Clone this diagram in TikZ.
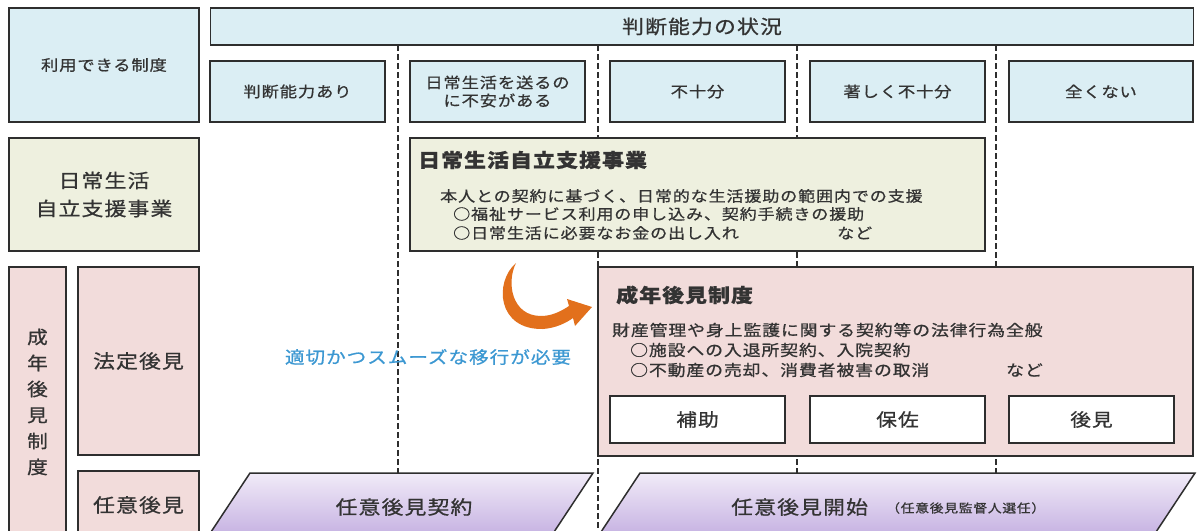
\documentclass[tikz,border=0pt]{standalone}
\usepackage{fontspec}
\setmainfont{Noto Sans CJK JP}[FakeStretch=1.15, LetterSpace=6, FakeBold=0.8]
\usetikzlibrary{arrows.meta}
\definecolor{lblue}{HTML}{DBEEF4}
\definecolor{lgreen}{HTML}{EEF0DF}
\definecolor{lpink}{HTML}{F2DCDB}
\definecolor{ptop}{HTML}{F1EBF8}
\definecolor{pbot}{HTML}{C6B2E2}
\definecolor{edge}{HTML}{2E2E2E}
\definecolor{txt}{HTML}{333333}
\definecolor{skyblue}{HTML}{3C98D2}
\definecolor{orng}{HTML}{E2701C}
\tikzset{
  box/.style={draw=edge, line width=1.5pt, inner sep=0pt, text=txt},
  divline/.style={draw=edge, line width=1.3pt, dash pattern=on 6pt off 3pt},
  para/.style={draw=edge, line width=1.5pt, top color=ptop, bottom color=pbot},
  lbl/.style={inner sep=0pt, text=txt},
  f15/.style={font=\fontsize{15}{18}\selectfont},
  f14/.style={font=\fontsize{14.8}{18}\selectfont},
  f155/.style={font=\fontsize{15.5}{18}\selectfont},
  f18/.style={font=\fontsize{18}{22}\selectfont},
  f19/.style={font=\fontsize{19}{28}\selectfont},
  h19/.style={font=\fontsize{19}{22}\selectfont\bfseries},
}
\begin{document}
\begin{tikzpicture}[x=1pt,y=-1pt]
\useasboundingbox (0,0) rectangle (1199,530);
\fill[white] (0,0) rectangle (1199,530);
\clip (0,0) rectangle (1199,530);

% dashed column dividers
\coordinate (d1t) at (398,45);  \coordinate (d1b) at (398,535);
\coordinate (d2t) at (598,45);  \coordinate (d2b) at (598,535);
\coordinate (d3t) at (797,45);  \coordinate (d3b) at (797,535);
\coordinate (d4t) at (996,45);  \coordinate (d4b) at (996,535);
\draw[divline] (d1t) -- (d1b);
\draw[divline] (d2t) -- (d2b);
\draw[divline] (d3t) -- (d3b);
\draw[divline] (d4t) -- (d4b);

% header row
\node[box, fill=lblue, minimum width=190, minimum height=114, f15] (use) at (104,65) {利用できる制度};
\node[box, fill=lblue, minimum width=983, minimum height=37, font=\fontsize{19}{22}\selectfont] (head) at (702,26.5) {判断能力の状況};
\node[box, fill=lblue, minimum width=175, minimum height=61, f15] (c1) at (297.5,91.5) {判断能力あり};
\node[box, fill=lblue, minimum width=175, minimum height=61, f15, align=center] (c2) at (497.5,91.5) {日常生活を送るの\\に不安がある};
\node[box, fill=lblue, minimum width=175, minimum height=61, f15] (c3) at (697.5,91.5) {不十分};
\node[box, fill=lblue, minimum width=175, minimum height=61, f15] (c4) at (897.5,91.5) {著しく不十分};
\node[box, fill=lblue, minimum width=184, minimum height=61, f15] (c5) at (1101,91.5) {全くない};

% daily life support row
\node[box, fill=lgreen, minimum width=190, minimum height=113, f19, align=center] (nl) at (104,194.5) {日常生活\\自立支援事業};
\node[box, fill=lgreen, minimum width=575, minimum height=113] (nb) at (697.5,194.5) {};
\node[lbl, h19, anchor=west] (nbh) at (418,160) {日常生活自立支援事業};
\node[lbl, f14, anchor=west] (nb1) at (440,196) {本人との契約に基づく、日常的な生活援助の範囲内での支援};
\node[lbl, f14, anchor=west] (nb2) at (453,214) {○福祉サービス利用の申し込み、契約手続きの援助};
\node[lbl, f14, anchor=west] (nb3) at (453,233) {○日常生活に必要なお金の出し入れ};
\node[lbl, f14, anchor=west] (nb4) at (837,233) {など};

% adult guardianship rows
\node[box, fill=lpink, minimum width=57, minimum height=270, font=\fontsize{18}{26}\selectfont, align=center] (sl) at (37.5,402) {成\\年\\後\\見\\制\\度};
\node[box, fill=lpink, minimum width=121, minimum height=188, f19] (ht) at (138.5,361) {法定後見};
\node[box, fill=lpink, minimum width=121, minimum height=70, f19] (ni) at (138.5,506) {};
\node[lbl, f19] (nit) at (138.5,505) {任意後見};

\node[box, fill=lpink, minimum width=595, minimum height=189] (pk) at (895.5,361.5) {};
\node[lbl, h19, anchor=west] (pkh) at (616,295) {成年後見制度};
\node[lbl, f155, anchor=west] (pk1) at (612,330) {財産管理や身上監護に関する契約等の法律行為全般};
\node[lbl, f155, anchor=west] (pk2) at (630,350) {○施設への入退所契約、入院契約};
\node[lbl, f155, anchor=west] (pk3) at (630,370) {○不動産の売却、消費者被害の取消};
\node[lbl, f155, anchor=west] (pk4) at (1006,370) {など};
\node[box, fill=white, minimum width=175, minimum height=47, f18] (hojo) at (697.5,419.5) {補助};
\node[box, fill=white, minimum width=175, minimum height=47, f18] (hosa) at (897.5,419.5) {保佐};
\node[box, fill=white, minimum width=165, minimum height=47, f18] (kouken) at (1091.5,419.5) {後見};

% transition note and arrow
\node[lbl, text=skyblue, font=\fontsize{17}{20}\selectfont] (move) at (428,357) {適切かつスムーズな移行が必要};
\fill[orng] (516,263) .. controls (494,282) and (497,330) .. (543,329)
  .. controls (556,328) and (566,323) .. (573,318)
  -- (575,326) -- (592,307) -- (567,299) -- (569,306)
  .. controls (560,312) and (551,316) .. (541,316)
  .. controls (512,316) and (506,283) .. (516,263) -- cycle;

% voluntary guardianship bars
\draw[para] (250,473) -- (593,473) -- (552,535) -- (209,535) -- cycle;
\node[lbl, f19] (p1) at (404,507) {任意後見契約};
\draw[para] (640,473) -- (1195,473) -- (1154,535) -- (599,535) -- cycle;
\node[lbl, f19, anchor=west] (p2) at (731,507) {任意後見開始};
\node[lbl, font=\fontsize{12}{14}\selectfont, anchor=west] (p2s) at (886,508) {（任意後見監督人選任）};
\end{tikzpicture}
\end{document}
